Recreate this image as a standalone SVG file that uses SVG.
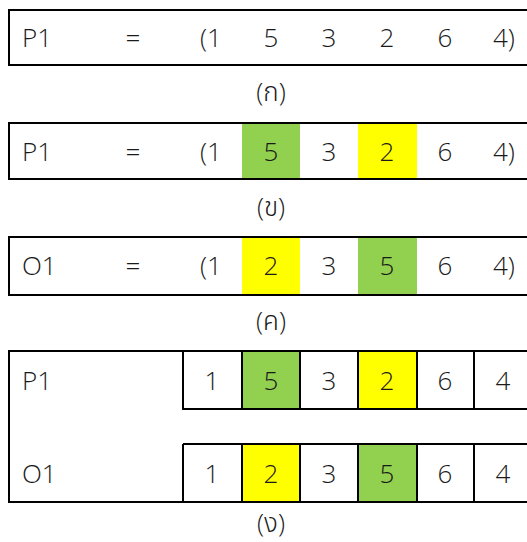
<svg xmlns="http://www.w3.org/2000/svg" width="527" height="542" viewBox="0 0 527 542">
<style>
.t{font-family:"Open Sans","Noto Sans","Noto Sans Thai","DejaVu Sans",sans-serif;font-weight:300;font-size:26px;fill:#1a1a1a}
.m{text-anchor:middle}
.b{fill:none;stroke:#000;stroke-width:2}
.g{fill:#92D050}
.y{fill:#FFFF00}
</style>
<rect x="0" y="0" width="527" height="542" fill="#fff"/>
<g id="a">
<rect class="b" x="9" y="10" width="530" height="55"/>
<text class="t" x="22" y="47">P1</text>
<text class="t m" x="133" y="47">=</text>
<text class="t m" x="211" y="47">(1</text>
<text class="t m" x="271" y="47">5</text>
<text class="t m" x="329" y="47">3</text>
<text class="t m" x="387" y="47">2</text>
<text class="t m" x="445" y="47">6</text>
<text class="t m" x="504" y="47">4)</text>
<text class="t m" x="271" y="101">(ก)</text>
</g>
<g id="b">
<rect class="g" x="242" y="123" width="58" height="56"/>
<rect class="y" x="358" y="123" width="59" height="56"/>
<rect class="b" x="9" y="123" width="530" height="56"/>
<text class="t" x="22" y="161">P1</text>
<text class="t m" x="133" y="161">=</text>
<text class="t m" x="211" y="161">(1</text>
<text class="t m" x="271" y="161">5</text>
<text class="t m" x="329" y="161">3</text>
<text class="t m" x="387" y="161">2</text>
<text class="t m" x="445" y="161">6</text>
<text class="t m" x="504" y="161">4)</text>
<text class="t m" x="271" y="216">(ข)</text>
</g>
<g id="c">
<rect class="y" x="242" y="237" width="58" height="58"/>
<rect class="g" x="358" y="237" width="59" height="58"/>
<rect class="b" x="9" y="237" width="530" height="58"/>
<text class="t" x="22" y="275">O1</text>
<text class="t m" x="133" y="275">=</text>
<text class="t m" x="211" y="275">(1</text>
<text class="t m" x="271" y="275">2</text>
<text class="t m" x="329" y="275">3</text>
<text class="t m" x="387" y="275">5</text>
<text class="t m" x="445" y="275">6</text>
<text class="t m" x="504" y="275">4)</text>
<text class="t m" x="271" y="330">(ค)</text>
</g>
<g id="d">
<rect class="g" x="242" y="351" width="58" height="58"/>
<rect class="y" x="358" y="351" width="59" height="58"/>
<rect class="y" x="242" y="444" width="58" height="58"/>
<rect class="g" x="358" y="444" width="59" height="58"/>
<path class="b" d="M540 351H9V502H540M183 351V409H540M183 444H540M183 444V502M242 351V409M300 351V409M358 351V409M417 351V409M474 351V409M242 444V502M300 444V502M358 444V502M417 444V502M474 444V502"/>
<text class="t" x="22" y="390">P1</text>
<text class="t m" x="212" y="390">1</text>
<text class="t m" x="271" y="390">5</text>
<text class="t m" x="329" y="390">3</text>
<text class="t m" x="387" y="390">2</text>
<text class="t m" x="445" y="390">6</text>
<text class="t m" x="503" y="390">4</text>
<text class="t" x="22" y="483">O1</text>
<text class="t m" x="212" y="483">1</text>
<text class="t m" x="271" y="483">2</text>
<text class="t m" x="329" y="483">3</text>
<text class="t m" x="387" y="483">5</text>
<text class="t m" x="445" y="483">6</text>
<text class="t m" x="503" y="483">4</text>
<text class="t m" x="271" y="532">(ง)</text>
</g>
<g id="connectors"></g>
</svg>
